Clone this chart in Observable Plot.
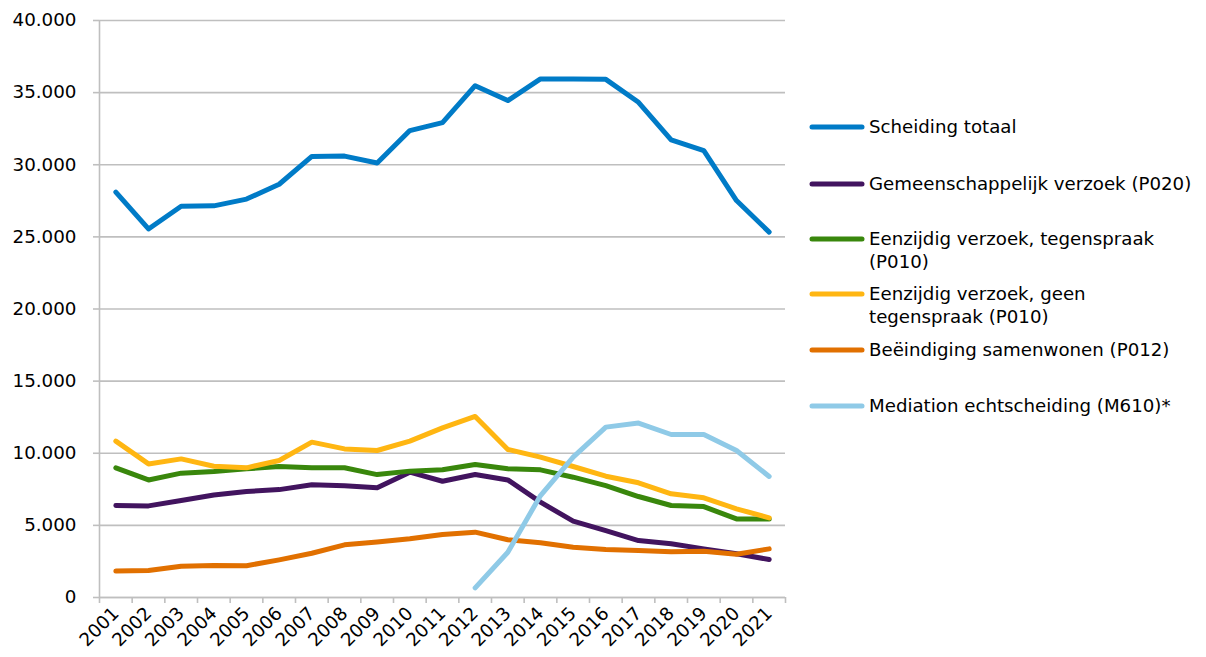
<!DOCTYPE html>
<html>
<head>
<meta charset="utf-8">
<script src="https://cdn.jsdelivr.net/npm/d3@7"></script>
<script src="https://cdn.jsdelivr.net/npm/@observablehq/plot@0.6"></script>
<style>
  html, body { margin: 0; padding: 0; background: #fff; }
  #wrap { position: relative; width: 1206px; height: 657px; font-family: "DejaVu Sans", Verdana, sans-serif; }
  #chart { position: absolute; left: 0; top: 0; }
  .leg { position: absolute; left: 809px; display: flex; align-items: flex-start; font-size: 18.2px; color: #000; line-height: 23px; }
  .leg .sw { width: 56px; height: 23px; flex: none; margin-right: 4px; }
  .leg span { display: block; width: 345px; white-space: nowrap; }
</style>
</head>
<body>
<div id="wrap"><div id="chart"></div><div id="legend"></div></div>
<script>
const years = [2001, 2002, 2003, 2004, 2005, 2006, 2007, 2008, 2009, 2010, 2011, 2012, 2013, 2014, 2015, 2016, 2017, 2018, 2019, 2020, 2021];

const seriesNames = [
  "Scheiding totaal",
  "Gemeenschappelijk verzoek (P020)",
  "Eenzijdig verzoek, tegenspraak (P010)",
  "Eenzijdig verzoek, geen tegenspraak (P010)",
  "Beëindiging samenwonen (P012)",
  "Mediation echtscheiding (M610)*"
];
const legendLabels = [
  ["Scheiding totaal"],
  ["Gemeenschappelijk verzoek (P020)"],
  ["Eenzijdig verzoek, tegenspraak", "(P010)"],
  ["Eenzijdig verzoek, geen", "tegenspraak (P010)"],
  ["Beëindiging samenwonen (P012)"],
  ["Mediation echtscheiding (M610)*"]
];
const seriesColors = ["#007BC7", "#42145F", "#39870C", "#FFB612", "#E17000", "#8FCAE7"];

const scheidingTotaal = [28100, 25550, 27120, 27150, 27620, 28650, 30580, 30600, 30120, 32370, 32920, 35480, 34450, 35950, 35950, 35920, 34330, 31720, 30980, 27520, 25330];
const gemeenschappelijk = [6380, 6350, 6720, 7110, 7350, 7480, 7810, 7740, 7600, 8690, 8060, 8530, 8150, 6610, 5290, 4640, 3950, 3720, 3370, 3030, 2630];
const tegenspraak = [8990, 8150, 8620, 8730, 8920, 9080, 8990, 8990, 8520, 8760, 8850, 9220, 8920, 8850, 8340, 7760, 7000, 6380, 6300, 5450, 5450];
const geenTegenspraak = [10840, 9260, 9610, 9100, 8990, 9500, 10770, 10300, 10190, 10840, 11760, 12550, 10260, 9730, 9080, 8410, 7950, 7190, 6910, 6150, 5520];
const samenwonen = [1830, 1870, 2170, 2220, 2200, 2610, 3070, 3650, 3840, 4070, 4370, 4530, 4000, 3790, 3490, 3330, 3260, 3170, 3200, 3000, 3370];
const mediation = [null, null, null, null, null, null, null, null, null, null, null, 670, 3140, 7070, 9730, 11810, 12090, 11300, 11300, 10190, 8390];

const yTicks = [0, 5000, 10000, 15000, 20000, 25000, 30000, 35000, 40000];

const allSeries = [scheidingTotaal, gemeenschappelijk, tegenspraak, geenTegenspraak, samenwonen, mediation];
const rows = [];
allSeries.forEach((vals, si) => {
  vals.forEach((v, i) => {
    if (v != null) rows.push({series: seriesNames[si], year: years[i], value: v});
  });
});

const nl = d3.formatLocale({decimal: ",", thousands: ".", grouping: [3], currency: ["€", ""]});
const fmt = nl.format(",d");

const xMin = years[0] - 0.5, xMax = years[years.length - 1] + 0.5;
const boundaries = years.map(y => y - 0.5).concat([xMax]);

const chart = Plot.plot({
  width: 800,
  height: 657,
  marginLeft: 99,
  marginRight: 15,
  marginTop: 20,
  marginBottom: 60,
  style: {fontFamily: "'DejaVu Sans', Verdana, sans-serif", fontSize: "18px", color: "#000", background: "#fff"},
  x: {type: "linear", domain: [xMin, xMax]},
  y: {domain: [0, 40000]},
  color: {domain: seriesNames, range: seriesColors},
  marks: [
    Plot.gridY(yTicks, {stroke: "#BFBFBF", strokeOpacity: 1, strokeWidth: 1.6}),
    Plot.axisY(yTicks, {tickFormat: fmt, tickSize: 6, tickPadding: 17, stroke: "#BFBFBF", strokeWidth: 1.6, fill: "#000", label: null, fontSize: 18.3}),
    Plot.ruleX([xMin], {stroke: "#BFBFBF", strokeWidth: 1.6}),
    Plot.ruleY([0], {stroke: "#BFBFBF", strokeWidth: 1.6}),
    Plot.axisX(boundaries, {tickFormat: () => "", tickSize: 6, stroke: "#BFBFBF", strokeWidth: 1.6, label: null}),
    Plot.axisX(years, {tickFormat: d => String(d), tickSize: 0, tickPadding: 13, tickRotate: -45, fill: "#000", label: null, fontSize: 18.3}),
    Plot.line(rows, {x: "year", y: "value", z: "series", stroke: "series", strokeWidth: 5, strokeLinejoin: "round", strokeLinecap: "round"})
  ]
});
document.getElementById("chart").appendChild(chart);

// legend
const legendTops = [115, 172, 227, 282, 338, 394];
const legend = document.getElementById("legend");
seriesNames.forEach((name, i) => {
  const item = document.createElement("div");
  item.className = "leg";
  item.style.top = legendTops[i] + "px";
  item.innerHTML = `<svg class="sw" width="56" height="23"><line x1="3" x2="53" y1="12" y2="12" stroke="${seriesColors[i]}" stroke-width="5" stroke-linecap="round"/></svg><span>${legendLabels[i].join("<br>")}</span>`;
  legend.appendChild(item);
});
</script>
</body>
</html>
